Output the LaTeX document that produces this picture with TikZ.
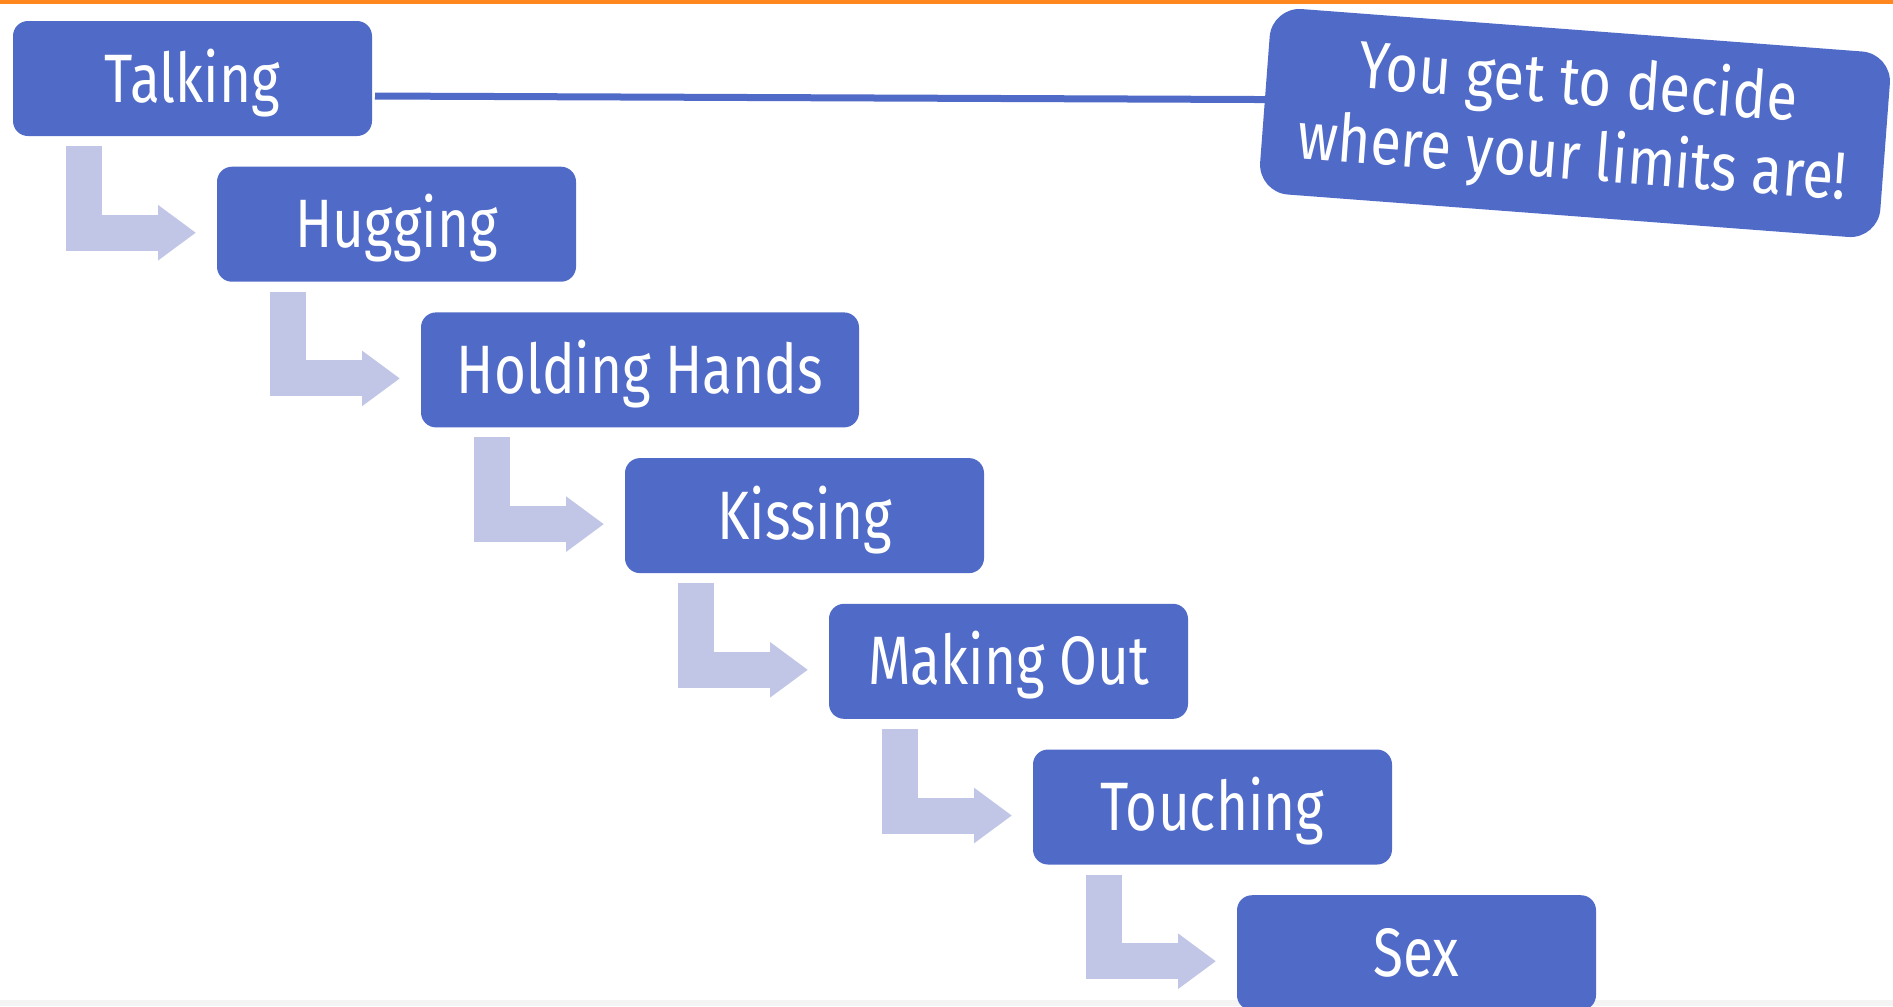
\documentclass[tikz,border=0pt]{standalone}
\usepackage{fontspec}
\setmainfont{Fira Sans}
\newfontfamily\boxfont[FakeStretch=0.8]{Fira Sans}
\newfontfamily\notefont[FakeStretch=0.84]{Fira Sans}
\usetikzlibrary{arrows.meta, positioning}

\definecolor{stepblue}{RGB}{80,106,200}
\definecolor{arrowlilac}{RGB}{193,198,230}
\definecolor{topbar}{RGB}{255,135,30}
\definecolor{footgrey}{RGB}{244,244,244}

\begin{document}
\begin{tikzpicture}[
    stepbox/.style={
        rectangle,
        fill=stepblue,
        rounded corners=0.15cm,
        minimum width=3.59cm,
        minimum height=1.15cm,
        outer sep=0pt,
        text height=13.4pt,
        text depth=0pt,
        text=white,
        font=\boxfont\fontsize{19.5}{22}\selectfont
    },
    notebox/.style={
        rectangle,
        fill=stepblue,
        rounded corners=0.3cm,
        minimum width=6.22cm,
        minimum height=1.86cm,
        outer sep=0pt,
        align=center,
        text=white,
        font=\notefont\fontsize{19}{21.3}\selectfont
    },
    bentarrow/.style={
        draw=arrowlilac,
        line width=0.36cm,
        -{Triangle[length=0.38cm, width=0.53cm, fill=arrowlilac]}
    }
]

\useasboundingbox (0,0) rectangle (18.93,-10.06);
\fill[topbar] (0,0) rectangle (18.93,-0.04);
\fill[footgrey] (0,-10.0) rectangle (18.93,-10.06);

% the steps, one below and right of the other
\node[stepbox, anchor=north west] (talking) at (0.13,-0.21) {Talking};
\node[stepbox, anchor=north west] (hugging) at ([xshift=2.04cm, yshift=-1.457cm]talking.north west) {Hugging};
\node[stepbox, anchor=north west, minimum width=4.38cm] (holding) at ([xshift=2.04cm, yshift=-1.457cm]hugging.north west) {Holding Hands};
\node[stepbox, anchor=north west] (kissing) at ([xshift=2.04cm, yshift=-1.457cm]holding.north west) {Kissing};
\node[stepbox, anchor=north west] (makingout) at ([xshift=2.04cm, yshift=-1.457cm]kissing.north west) {Making Out};
\node[stepbox, anchor=north west] (touching) at ([xshift=2.04cm, yshift=-1.457cm]makingout.north west) {Touching};
\node[stepbox, anchor=north west] (sex) at ([xshift=2.04cm, yshift=-1.457cm]touching.north west) {Sex};

% note
\node[notebox, rotate=-4.33] (note) at (15.75,-1.23) {You get to decide\\where your limits are!};

\draw[stepblue, line width=0.07cm, shorten <=0.03cm] ([yshift=-0.175cm]talking.east) -- (note.west);

% bent arrows
\foreach \a/\b in {talking/hugging, hugging/holding, holding/kissing, kissing/makingout, makingout/touching, touching/sex}
    \draw[bentarrow] ([xshift=0.71cm, yshift=-0.10cm]\a.south west) |- ([xshift=-0.21cm, yshift=-0.085cm]\b.west);

\end{tikzpicture}
\end{document}
